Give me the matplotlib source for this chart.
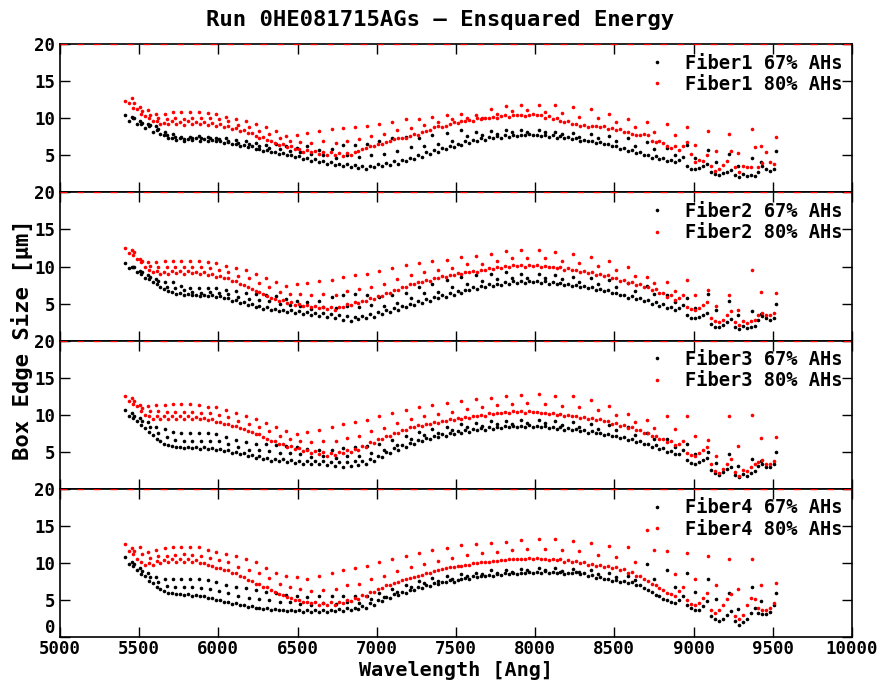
import matplotlib
matplotlib.use("Agg")
import matplotlib.pyplot as plt

plt.rcParams["font.family"] = ["DejaVu Sans Mono"]
plt.rcParams["font.weight"] = "bold"

# sampling grid of the dense bands, the order spikes and the points just after them
wave_base = [
    5410, 5435, 5460, 5485, 5510, 5535, 5560, 5585, 5610, 5635, 5660, 5685, 5710, 5735, 5760, 5785, 5810, 5835, 5860, 5885,
    5910, 5935, 5960, 5985, 6010, 6035, 6060, 6085, 6110, 6135, 6160, 6185, 6210, 6235, 6260, 6285, 6310, 6335, 6360, 6385,
    6410, 6435, 6460, 6485, 6510, 6535, 6560, 6585, 6610, 6635, 6660, 6685, 6710, 6735, 6760, 6785, 6810, 6835, 6860, 6885,
    6910, 6935, 6960, 6985, 7010, 7035, 7060, 7085, 7110, 7135, 7160, 7185, 7210, 7235, 7260, 7285, 7310, 7335, 7360, 7385,
    7410, 7435, 7460, 7485, 7510, 7535, 7560, 7585, 7610, 7635, 7660, 7685, 7710, 7735, 7760, 7785, 7810, 7835, 7860, 7885,
    7910, 7935, 7960, 7985, 8010, 8035, 8060, 8085, 8110, 8135, 8160, 8185, 8210, 8235, 8260, 8285, 8310, 8335, 8360, 8385,
    8410, 8435, 8460, 8485, 8510, 8535, 8560, 8585, 8610, 8635, 8660, 8685, 8710, 8735, 8760, 8785, 8810, 8835, 8860, 8885,
    8910, 8935, 8960, 8985, 9010, 9035, 9060, 9085, 9110, 9135, 9160, 9185, 9210, 9235, 9260, 9285, 9310, 9335, 9360, 9385,
    9410, 9435, 9460, 9485, 9510,
]
wave_peak = [
    5455, 5504, 5557, 5609, 5662, 5715, 5767, 5820, 5877, 5934,
    5988, 6047, 6110, 6174, 6235, 6300, 6367, 6430, 6494, 6561,
    6637, 6715, 6788, 6862, 6936, 7016, 7098, 7184, 7268, 7352,
    7441, 7532, 7626, 7721, 7816, 7910, 8022, 8127, 8237, 8353,
    8464, 8584, 8704, 8830, 8957, 9089, 9226, 9369, 9520,
]
wave_mid = [
    5468, 5517, 5570, 5622, 5676, 5729, 5782, 5835, 5892, 5950,
    6004, 6064, 6127, 6192, 6254, 6320, 6388, 6452, 6517, 6585,
    6662, 6741, 6815, 6890, 6965, 7046, 7129, 7216, 7301, 7386,
    7476, 7568, 7663, 7759, 7855, 7950, 8063, 8169, 8280, 8397,
    8510, 8631, 8752, 8880, 9008, 9141, 9280, 9424,
]

# Fiber 1
f1_67_base = [
    10.5, 9.7, 10.0, 9.2, 9.3, 8.7, 8.9, 8.2, 8.4, 7.9, 7.8, 7.4, 7.3, 7.1, 7.3, 7.0, 7.2, 7.1, 7.3, 7.0,
    7.2, 7.0, 7.1, 6.9, 7.0, 6.7, 6.8, 6.5, 6.6, 6.3, 6.4, 6.1, 6.2, 5.9, 5.9, 5.6, 5.7, 5.4, 5.5, 5.2,
    5.3, 5.0, 5.1, 4.8, 4.9, 4.5, 4.7, 4.3, 4.5, 4.1, 4.3, 3.9, 4.1, 3.7, 3.9, 3.5, 3.8, 3.4, 3.7, 3.3,
    3.6, 3.2, 3.6, 3.4, 3.8, 3.5, 4.0, 3.7, 4.2, 3.9, 4.4, 4.2, 4.7, 4.5, 5.0, 4.8, 5.4, 5.2, 5.7, 5.5,
    6.0, 5.8, 6.3, 6.1, 6.6, 6.4, 6.9, 6.7, 7.1, 6.9, 7.3, 7.1, 7.5, 7.3, 7.6, 7.4, 7.7, 7.5, 7.8, 7.6,
    7.8, 7.7, 7.9, 7.7, 7.8, 7.6, 7.8, 7.5, 7.7, 7.4, 7.6, 7.3, 7.5, 7.2, 7.3, 7.0, 7.1, 6.9, 7.0, 6.7,
    6.8, 6.5, 6.5, 6.2, 6.3, 5.9, 6.0, 5.6, 5.7, 5.3, 5.4, 5.0, 5.1, 4.7, 4.9, 4.5, 4.6, 4.2, 4.4, 4.1,
    4.4, 4.8, 3.6, 3.2, 3.1, 3.3, 3.6, 3.9, 2.7, 2.5, 2.4, 2.6, 2.8, 3.0, 2.3, 2.1, 2.5, 2.2, 2.3, 2.2,
    2.8, 3.5, 3.1, 2.9, 3.2,
]
f1_67_peak = [
    10.2, 9.6, 9.3, 8.9, 8.2, 7.9, 7.5, 7.5, 7.6, 7.5,
    7.4, 7.3, 7.1, 6.9, 6.7, 6.4, 6.5, 6.2, 6.0, 6.2,
    5.7, 5.8, 6.4, 6.4, 6.5, 6.9, 7.3, 7.5, 7.3, 7.7,
    8.0, 8.4, 8.2, 8.3, 8.4, 8.4, 8.4, 8.2, 8.0, 7.9,
    7.6, 7.3, 6.8, 6.0, 6.4, 5.7, 5.2, 4.7, 5.6,
]
f1_67_mid = [
    10.1, 9.4, 9.1, 8.6, 7.8, 7.5, 7.2, 7.3, 7.3, 7.3,
    7.2, 7.0, 6.7, 6.5, 6.3, 6.0, 5.8, 5.6, 5.4, 5.2,
    5.0, 4.7, 5.1, 4.8, 5.0, 5.2, 5.6, 6.1, 6.3, 6.6,
    7.0, 7.6, 7.7, 7.9, 8.1, 8.1, 8.1, 7.9, 7.5, 7.3,
    6.9, 6.3, 5.8, 5.0, 4.7, 4.1, 3.6, 4.1,
]
f1_80_base = [
    12.4, 12.0, 11.4, 11.2, 10.6, 10.3, 10.0, 9.6, 9.7, 9.3, 9.4, 9.2, 9.6, 9.2, 9.5, 9.1, 9.6, 9.2, 9.5, 9.2,
    9.5, 9.1, 9.4, 9.0, 9.2, 8.8, 9.0, 8.6, 8.7, 8.3, 8.4, 8.0, 8.0, 7.6, 7.4, 7.5, 7.1, 6.9, 6.7, 6.4,
    6.5, 6.1, 6.2, 5.8, 5.9, 5.5, 5.7, 5.4, 5.6, 5.2, 5.5, 5.1, 5.4, 5.0, 5.3, 4.9, 5.3, 5.0, 5.5, 5.6,
    5.9, 6.0, 6.2, 6.3, 6.5, 6.6, 6.8, 6.9, 7.2, 7.3, 7.4, 7.3, 7.6, 7.9, 7.8, 8.2, 8.3, 8.4, 8.8, 8.9,
    8.8, 9.0, 9.3, 9.5, 9.4, 9.7, 9.6, 9.8, 9.7, 10.0, 9.9, 10.1, 10.0, 10.2, 10.1, 10.3, 10.4, 10.2, 10.5, 10.4,
    10.5, 10.3, 10.4, 10.6, 10.4, 10.5, 10.1, 10.3, 9.9, 10.0, 9.7, 9.5, 9.6, 9.3, 9.2, 9.0, 9.1, 8.8, 9.0, 8.9,
    8.8, 8.9, 8.6, 8.7, 8.4, 8.5, 8.2, 8.1, 7.9, 7.8, 7.7, 7.9, 7.8, 7.0, 6.8, 6.9, 6.7, 6.3, 6.0, 6.2,
    5.7, 6.2, 6.8, 5.2, 4.1, 4.4, 4.3, 5.0, 3.6, 2.9, 3.1, 3.7, 4.3, 5.6, 3.4, 2.7, 3.5, 3.4, 3.4, 6.1,
    3.4, 4.0, 5.4, 4.1, 3.8,
]
f1_80_peak = [
    12.7, 11.5, 11.1, 10.6, 10.6, 10.8, 10.8, 10.8, 10.8, 10.7,
    10.6, 10.2, 9.9, 9.7, 9.3, 8.8, 8.3, 7.6, 7.8, 8.0,
    8.3, 8.5, 8.7, 8.8, 9.0, 9.2, 9.5, 9.9, 9.9, 10.2,
    10.4, 10.6, 10.4, 11.2, 11.6, 11.8, 11.8, 11.8, 11.5, 11.2,
    10.6, 9.9, 9.5, 9.3, 8.8, 8.3, 7.9, 8.5, 7.5,
]
f1_80_mid = [
    12.0, 11.0, 10.5, 10.1, 9.9, 10.0, 9.9, 10.0, 10.0, 10.0,
    9.9, 9.6, 9.1, 8.8, 8.3, 7.9, 7.3, 6.9, 6.8, 6.7,
    6.9, 6.7, 7.0, 7.2, 7.6, 7.9, 8.4, 8.7, 9.1, 9.5,
    9.9, 10.1, 10.1, 10.6, 11.0, 11.1, 10.9, 10.7, 10.2, 10.0,
    9.5, 8.8, 8.1, 7.7, 6.4, 5.6, 5.3, 6.2,
]

# Fiber 2
f2_67_base = [
    10.5, 9.8, 9.9, 9.2, 9.0, 8.5, 8.3, 7.9, 7.7, 7.3, 7.0, 6.7, 6.6, 6.3, 6.4, 6.1, 6.3, 6.1, 6.2, 6.0,
    6.2, 6.0, 6.1, 5.9, 6.0, 5.7, 5.7, 5.4, 5.5, 5.1, 5.2, 4.8, 4.9, 4.6, 4.7, 4.3, 4.5, 4.1, 4.3, 4.0,
    4.2, 3.9, 4.1, 3.7, 4.0, 3.6, 3.9, 3.5, 3.8, 3.3, 3.7, 3.2, 3.6, 3.0, 3.4, 2.8, 3.3, 2.7, 3.2, 2.9,
    3.3, 3.0, 3.6, 3.2, 3.9, 3.6, 4.1, 3.9, 4.4, 4.2, 4.7, 4.5, 5.0, 4.8, 5.3, 5.1, 5.6, 5.4, 5.9, 5.7,
    6.1, 5.9, 6.4, 6.2, 6.7, 6.5, 6.9, 6.8, 7.2, 7.0, 7.4, 7.2, 7.6, 7.4, 7.7, 7.5, 7.9, 7.7, 8.0, 7.8,
    8.0, 7.8, 8.1, 7.9, 8.0, 7.8, 8.0, 7.7, 7.9, 7.6, 7.8, 7.5, 7.7, 7.4, 7.5, 7.2, 7.4, 7.1, 7.2, 6.9,
    7.0, 6.7, 6.8, 6.4, 6.5, 6.1, 6.2, 5.8, 6.0, 5.6, 5.7, 5.3, 5.5, 5.0, 5.2, 4.7, 4.9, 4.4, 4.6, 4.2,
    4.4, 4.8, 3.5, 3.1, 3.0, 3.2, 3.5, 3.8, 2.3, 1.9, 1.8, 2.1, 2.5, 2.9, 1.9, 1.6, 2.0, 1.7, 1.9, 2.0,
    2.8, 3.3, 3.0, 2.8, 3.1,
]
f2_67_peak = [
    10.0, 9.4, 8.9, 8.3, 7.9, 7.9, 7.4, 7.1, 7.1, 7.1,
    7.1, 6.9, 6.7, 6.5, 6.3, 6.2, 6.0, 5.6, 5.4, 5.2,
    5.4, 5.9, 6.1, 6.3, 6.1, 5.9, 6.1, 6.5, 7.2, 7.6,
    8.2, 8.6, 8.9, 9.0, 9.3, 9.0, 9.0, 8.8, 8.6, 8.4,
    8.2, 7.8, 7.4, 6.2, 5.8, 6.3, 5.4, 4.0, 5.0,
]
f2_67_mid = [
    9.9, 9.2, 8.6, 8.0, 7.3, 7.1, 6.8, 6.6, 6.5, 6.6,
    6.5, 6.3, 5.9, 5.6, 5.5, 5.3, 5.0, 4.8, 4.7, 4.3,
    4.5, 4.4, 4.7, 4.6, 4.8, 4.7, 5.1, 5.7, 6.4, 6.6,
    7.2, 7.7, 8.0, 8.3, 8.5, 8.5, 8.5, 8.3, 7.9, 7.6,
    7.3, 6.7, 6.3, 5.2, 4.4, 4.1, 3.5, 3.6,
]
f2_80_base = [
    12.5, 11.8, 11.6, 11.0, 10.6, 10.0, 9.6, 9.3, 9.4, 9.0, 9.3, 9.0, 9.4, 9.1, 9.4, 9.0, 9.4, 9.1, 9.3, 9.0,
    9.2, 8.9, 9.0, 8.6, 8.7, 8.4, 8.4, 8.0, 8.0, 7.6, 7.5, 7.2, 7.0, 6.7, 6.6, 6.3, 6.0, 5.8, 5.6, 5.4,
    5.5, 5.1, 5.2, 4.8, 5.0, 4.7, 4.8, 4.5, 4.7, 4.4, 4.6, 4.3, 4.5, 4.2, 4.6, 4.5, 4.9, 4.8, 5.2, 5.1,
    5.4, 5.3, 5.7, 5.6, 6.0, 6.0, 6.4, 6.4, 6.8, 6.9, 7.2, 7.3, 7.6, 7.6, 7.9, 7.9, 8.2, 8.1, 8.4, 8.4,
    8.7, 8.6, 8.9, 8.8, 9.1, 9.0, 9.3, 9.2, 9.4, 9.3, 9.6, 9.5, 9.8, 9.7, 9.9, 9.8, 10.1, 10.0, 10.2, 10.1,
    10.2, 10.0, 10.2, 10.1, 10.2, 10.0, 10.1, 9.9, 10.0, 9.8, 9.9, 9.6, 9.8, 9.5, 9.6, 9.3, 9.4, 9.1, 9.2, 8.9,
    9.0, 8.7, 8.8, 8.4, 8.5, 8.1, 8.2, 7.8, 7.9, 7.5, 7.6, 7.2, 7.3, 6.8, 7.0, 6.4, 6.5, 5.9, 6.1, 5.5,
    5.7, 6.2, 4.6, 4.3, 4.2, 4.4, 4.8, 5.2, 3.1, 2.6, 2.5, 2.8, 3.4, 4.0, 2.5, 2.1, 2.6, 2.4, 2.6, 2.8,
    3.4, 3.8, 3.5, 3.4, 3.7,
]
f2_80_peak = [
    12.2, 11.0, 10.6, 10.6, 10.8, 10.8, 10.8, 10.8, 10.8, 10.6,
    10.5, 10.1, 9.8, 9.5, 9.0, 8.4, 7.9, 7.4, 7.6, 7.8,
    8.0, 8.2, 8.6, 8.8, 9.0, 9.4, 9.8, 10.2, 10.5, 10.7,
    10.9, 11.3, 11.4, 11.7, 12.1, 12.3, 12.2, 12.0, 11.7, 11.3,
    10.8, 10.0, 8.6, 7.9, 8.2, 6.9, 6.1, 9.5, 6.5,
]
f2_80_mid = [
    11.9, 10.8, 10.1, 10.0, 9.9, 10.0, 9.9, 10.0, 9.9, 9.8,
    9.6, 9.3, 8.7, 8.4, 7.8, 7.2, 6.6, 6.3, 6.3, 6.1,
    6.3, 6.2, 6.7, 7.0, 7.3, 7.7, 8.3, 8.9, 9.3, 9.5,
    9.8, 10.3, 10.4, 10.8, 11.1, 11.2, 11.1, 10.8, 10.5, 10.1,
    9.6, 8.7, 7.8, 6.7, 6.2, 4.7, 4.1, 6.6,
]

# Fiber 3
f3_67_base = [
    10.7, 9.9, 9.6, 9.2, 8.6, 8.2, 7.7, 7.3, 6.8, 6.4, 6.1, 5.9, 5.8, 5.6, 5.7, 5.5, 5.7, 5.5, 5.6, 5.4,
    5.6, 5.4, 5.5, 5.3, 5.4, 5.1, 5.2, 4.9, 5.0, 4.7, 4.8, 4.4, 4.6, 4.2, 4.4, 4.0, 4.2, 3.8, 4.0, 3.7,
    4.0, 3.6, 3.9, 3.5, 3.8, 3.4, 3.8, 3.3, 3.7, 3.3, 3.7, 3.2, 3.6, 3.1, 3.6, 3.0, 3.6, 3.1, 3.7, 3.2,
    3.8, 3.4, 4.1, 3.8, 4.5, 4.3, 5.0, 4.8, 5.5, 5.3, 5.9, 5.7, 6.2, 6.0, 6.6, 6.4, 6.9, 6.7, 7.2, 7.0,
    7.4, 7.2, 7.6, 7.4, 7.8, 7.6, 7.9, 7.7, 8.1, 7.9, 8.2, 8.0, 8.3, 8.1, 8.4, 8.2, 8.5, 8.3, 8.5, 8.3,
    8.5, 8.3, 8.6, 8.4, 8.5, 8.3, 8.5, 8.2, 8.4, 8.1, 8.3, 8.0, 8.2, 7.9, 8.1, 7.8, 7.9, 7.6, 7.8, 7.5,
    7.6, 7.3, 7.4, 7.1, 7.2, 6.9, 7.0, 6.6, 6.8, 6.3, 6.4, 6.0, 6.1, 5.7, 5.9, 5.4, 5.5, 5.0, 5.1, 4.7,
    4.7, 5.2, 3.9, 3.5, 3.4, 3.6, 3.9, 4.2, 2.6, 2.1, 1.9, 2.3, 2.7, 3.0, 1.9, 1.6, 2.0, 1.8, 2.1, 2.4,
    3.1, 3.4, 3.0, 2.9, 3.3,
]
f3_67_peak = [
    10.3, 9.6, 9.0, 8.4, 8.1, 7.7, 7.6, 7.6, 7.6, 7.6,
    7.4, 7.0, 6.6, 6.3, 6.1, 6.0, 5.9, 5.8, 5.6, 5.4,
    5.2, 5.3, 5.5, 5.6, 5.8, 6.1, 6.6, 7.2, 7.7, 8.1,
    8.4, 8.7, 8.9, 9.1, 9.2, 9.3, 9.3, 9.2, 9.0, 8.8,
    8.6, 8.3, 7.6, 6.8, 6.1, 5.0, 4.7, 4.1, 5.0,
]
f3_67_mid = [
    9.9, 9.1, 8.3, 7.6, 7.0, 6.6, 6.5, 6.5, 6.5, 6.5,
    6.4, 6.1, 5.6, 5.3, 5.2, 5.1, 4.8, 4.8, 4.7, 4.3,
    4.4, 4.2, 4.5, 4.4, 4.9, 5.2, 5.9, 6.7, 7.3, 7.5,
    7.9, 8.3, 8.5, 8.7, 8.7, 8.9, 8.9, 8.6, 8.4, 8.1,
    7.9, 7.3, 6.7, 5.7, 4.7, 3.5, 3.1, 3.7,
]
f3_80_base = [
    12.6, 11.9, 11.5, 11.2, 10.5, 10.0, 9.8, 9.5, 9.8, 9.4, 9.8, 9.5, 9.9, 9.5, 9.9, 9.5, 9.8, 9.4, 9.7, 9.4,
    9.6, 9.3, 9.4, 9.0, 9.0, 8.7, 8.8, 8.5, 8.5, 8.2, 8.1, 7.8, 7.7, 7.4, 7.4, 7.0, 6.8, 6.5, 6.4, 6.1,
    6.1, 5.7, 5.8, 5.4, 5.5, 5.1, 5.3, 4.9, 5.1, 4.7, 5.0, 4.5, 4.9, 4.6, 5.0, 4.8, 5.2, 5.0, 5.4, 5.3,
    5.8, 5.7, 6.3, 6.2, 6.7, 6.7, 7.1, 7.2, 7.5, 7.6, 7.9, 8.0, 8.3, 8.3, 8.6, 8.5, 8.8, 8.7, 9.0, 8.9,
    9.2, 9.1, 9.4, 9.3, 9.6, 9.5, 9.7, 9.6, 9.9, 9.8, 10.0, 9.9, 10.2, 10.1, 10.3, 10.2, 10.4, 10.3, 10.5, 10.4,
    10.5, 10.3, 10.5, 10.4, 10.4, 10.2, 10.3, 10.1, 10.2, 10.0, 10.1, 9.9, 10.0, 9.8, 9.9, 9.6, 9.7, 9.5, 9.6, 9.3,
    9.4, 9.1, 9.2, 8.8, 8.9, 8.5, 8.6, 8.2, 8.3, 7.9, 8.0, 7.5, 7.6, 7.1, 7.2, 6.7, 6.8, 6.3, 6.4, 5.9,
    6.1, 6.5, 4.9, 4.6, 4.5, 4.8, 5.2, 5.6, 3.4, 2.4, 2.2, 2.7, 3.4, 4.1, 2.3, 1.8, 2.5, 2.4, 2.9, 3.3,
    3.6, 3.9, 3.4, 3.3, 3.7,
]
f3_80_peak = [
    12.3, 11.3, 11.2, 11.3, 11.3, 11.4, 11.4, 11.4, 11.3, 11.1,
    11.0, 10.6, 10.2, 9.8, 9.4, 8.9, 8.4, 7.8, 7.4, 7.7,
    7.9, 8.4, 8.7, 9.0, 9.3, 9.8, 10.2, 10.6, 11.1, 11.3,
    11.6, 11.9, 12.1, 12.3, 12.5, 12.7, 12.8, 12.6, 12.5, 12.0,
    11.2, 10.1, 9.3, 9.9, 9.9, 6.6, 9.9, 10.0, 7.0,
]
f3_80_mid = [
    11.9, 10.9, 10.5, 10.5, 10.4, 10.4, 10.4, 10.4, 10.3, 10.2,
    10.0, 9.7, 9.2, 8.8, 8.4, 7.8, 7.2, 6.8, 6.4, 6.3,
    6.4, 6.5, 6.9, 7.1, 7.8, 8.2, 8.9, 9.4, 9.9, 10.1,
    10.4, 10.8, 11.0, 11.3, 11.5, 11.6, 11.5, 11.2, 11.0, 10.6,
    10.0, 9.0, 8.2, 8.1, 7.2, 4.4, 5.8, 6.9,
]

# Fiber 4
f4_67_base = [
    10.8, 9.9, 9.6, 9.1, 8.5, 8.2, 7.6, 7.3, 6.8, 6.5, 6.2, 6.0, 5.9, 5.8, 5.8, 5.7, 5.8, 5.6, 5.7, 5.5,
    5.6, 5.3, 5.3, 5.0, 5.0, 4.7, 4.8, 4.5, 4.6, 4.3, 4.4, 4.1, 4.2, 3.9, 4.0, 3.8, 3.9, 3.7, 3.8, 3.6,
    3.7, 3.5, 3.7, 3.5, 3.6, 3.4, 3.6, 3.4, 3.6, 3.4, 3.6, 3.4, 3.7, 3.5, 3.8, 3.5, 3.9, 3.6, 4.0, 3.8,
    4.2, 4.0, 4.6, 4.4, 5.0, 4.9, 5.4, 5.3, 5.8, 5.7, 6.1, 6.0, 6.4, 6.3, 6.7, 6.6, 7.0, 6.9, 7.3, 7.2,
    7.5, 7.4, 7.7, 7.5, 7.7, 7.9, 8.0, 7.9, 8.2, 8.1, 8.3, 8.2, 8.4, 8.3, 8.5, 8.4, 8.6, 8.5, 8.6, 8.5,
    8.7, 8.6, 8.8, 8.7, 8.8, 8.6, 8.9, 8.7, 8.8, 8.6, 8.8, 8.5, 8.7, 8.6, 8.8, 8.5, 8.6, 8.3, 8.4, 8.0,
    8.1, 7.8, 7.9, 7.6, 7.7, 7.4, 7.6, 7.3, 7.4, 7.1, 7.0, 6.6, 6.4, 6.1, 5.7, 5.5, 5.2, 5.0, 4.8, 4.6,
    5.0, 5.6, 4.4, 3.9, 3.6, 3.7, 4.2, 4.9, 2.8, 2.4, 2.2, 2.5, 3.0, 3.5, 2.2, 1.7, 2.1, 2.5, 3.2, 4.0,
    3.2, 3.1, 3.1, 3.4, 4.3,
]
f4_67_peak = [
    10.2, 9.3, 8.6, 8.1, 7.9, 7.9, 7.9, 7.9, 7.8, 7.7,
    7.5, 7.0, 6.8, 6.6, 6.3, 6.1, 5.9, 5.7, 5.5, 5.4,
    5.6, 5.6, 5.5, 5.5, 5.6, 6.0, 6.5, 7.0, 7.6, 8.0,
    8.3, 8.5, 8.7, 9.0, 9.0, 9.2, 9.3, 9.3, 9.2, 9.0,
    8.6, 8.3, 9.9, 9.1, 8.6, 7.9, 5.9, 6.7, 5.9,
]
f4_67_mid = [
    9.9, 8.9, 8.1, 7.4, 6.9, 6.8, 6.8, 6.7, 6.6, 6.5,
    6.2, 5.9, 5.5, 5.3, 5.1, 5.0, 4.7, 4.7, 4.5, 4.4,
    4.6, 4.5, 4.7, 4.6, 5.1, 5.4, 6.1, 6.7, 7.3, 7.6,
    7.9, 8.2, 8.5, 8.7, 8.8, 9.0, 9.1, 8.9, 8.8, 8.5,
    8.1, 7.7, 7.8, 6.8, 6.1, 5.1, 3.8, 4.9,
]
f4_80_base = [
    12.6, 11.6, 11.2, 10.5, 10.2, 9.8, 10.0, 9.7, 10.3, 10.0, 10.4, 10.1, 10.5, 10.2, 10.5, 10.2, 10.5, 10.1, 10.4, 10.0,
    10.0, 9.7, 9.6, 9.3, 9.3, 9.0, 9.0, 8.6, 8.6, 8.2, 8.1, 7.7, 7.6, 7.2, 7.2, 6.8, 6.7, 6.3, 6.1, 5.8,
    5.7, 5.4, 5.3, 5.0, 5.0, 4.8, 4.8, 4.6, 4.7, 4.4, 4.6, 4.3, 4.7, 4.4, 4.8, 4.6, 5.0, 4.9, 5.3, 5.2,
    5.7, 5.6, 6.1, 6.1, 6.5, 6.6, 7.0, 7.0, 7.3, 7.4, 7.7, 7.8, 8.0, 8.1, 8.3, 8.4, 8.6, 8.7, 8.9, 9.0,
    9.2, 9.3, 9.4, 9.5, 9.6, 9.6, 9.8, 9.8, 10.0, 10.0, 10.1, 10.2, 10.2, 10.3, 10.3, 10.4, 10.4, 10.5, 10.5, 10.6,
    10.6, 10.5, 10.7, 10.6, 10.7, 10.5, 10.6, 10.4, 10.6, 10.4, 10.5, 10.2, 10.4, 10.1, 10.3, 10.0, 10.1, 9.8, 9.9, 9.6,
    9.8, 9.5, 9.6, 9.3, 9.4, 9.0, 9.2, 8.7, 8.8, 8.3, 8.2, 7.8, 7.6, 7.2, 7.0, 6.6, 6.3, 6.0, 5.8, 5.5,
    6.2, 6.8, 5.0, 4.5, 4.3, 4.6, 5.3, 6.0, 3.6, 3.3, 3.7, 4.4, 5.1, 5.8, 2.8, 2.4, 3.0, 4.3, 5.3, 5.2,
    4.0, 3.6, 3.7, 4.0, 4.6,
]
f4_80_peak = [
    12.0, 12.2, 11.5, 11.8, 12.0, 12.1, 12.2, 12.2, 12.1, 11.8,
    11.5, 11.2, 10.9, 10.5, 10.1, 9.3, 8.6, 8.2, 8.1, 7.9,
    8.2, 8.6, 9.0, 9.3, 9.6, 10.1, 10.5, 10.9, 11.3, 11.7,
    12.0, 12.4, 12.6, 12.7, 12.9, 13.1, 13.2, 13.2, 13.0, 12.7,
    12.3, 12.1, 14.5, 11.6, 11.3, 10.9, 10.6, 10.5, 7.3,
]
f4_80_mid = [
    11.6, 11.2, 10.7, 10.9, 11.0, 11.1, 11.2, 11.1, 11.0, 10.7,
    10.4, 10.1, 9.5, 9.1, 8.6, 8.0, 7.2, 6.7, 6.5, 6.2,
    6.4, 6.5, 7.0, 7.2, 7.8, 8.3, 8.9, 9.4, 9.9, 10.3,
    10.7, 11.1, 11.3, 11.5, 11.7, 11.9, 11.9, 11.7, 11.6, 11.1,
    10.8, 10.2, 11.8, 8.5, 7.8, 7.1, 6.5, 7.0,
]

fibers = [
    ("Fiber1", f1_67_base + f1_67_peak + f1_67_mid, f1_80_base + f1_80_peak + f1_80_mid),
    ("Fiber2", f2_67_base + f2_67_peak + f2_67_mid, f2_80_base + f2_80_peak + f2_80_mid),
    ("Fiber3", f3_67_base + f3_67_peak + f3_67_mid, f3_80_base + f3_80_peak + f3_80_mid),
    ("Fiber4", f4_67_base + f4_67_peak + f4_67_mid, f4_80_base + f4_80_peak + f4_80_mid),
]
x_ticks = [5000, 5500, 6000, 6500, 7000, 7500, 8000, 8500, 9000, 9500, 10000]
y_ticks = [0, 5, 10, 15, 20]
y_tick_labels = ["0", "5", "10", "15", "20"]

fig, axes = plt.subplots(4, 1, sharex=True, figsize=(8.81, 6.8), dpi=100)
fig.subplots_adjust(left=0.068, right=0.967, top=0.935, bottom=0.063, hspace=0)

wave_all = wave_base + wave_peak + wave_mid
for i, (ax, (name, v67, v80)) in enumerate(zip(axes, fibers)):
    ax.plot(wave_all, v67, "o", color="black", ms=2.6, mew=0,
            label=f"{name} 67% AHs")
    ax.plot(wave_all, v80, "o", color="red", ms=2.6, mew=0,
            label=f"{name} 80% AHs")
    ax.axhline(20, color="red", ls=(0, (5, 7)), lw=1.0, zorder=3)
    ax.set_xlim(5000, 10000)
    ax.set_ylim(0, 20)
    ax.set_xticks(x_ticks)
    ax.set_yticks(y_ticks)
    # the "0" of the upper panels sits under the "20" of the panel below
    labels = y_tick_labels if i == len(axes) - 1 else [""] + y_tick_labels[1:]
    ax.set_yticklabels(labels)
    ax.tick_params(direction="in", top=True, right=True, length=7,
                   width=1, labelsize=12.5)
    ax.tick_params(axis="x", pad=2)
    for sp in ax.spines.values():
        sp.set_linewidth(1.2)
    ax.legend(loc="upper right", frameon=False, fontsize=13.5,
              handlelength=1.0, handletextpad=1.0, labelspacing=0.12,
              borderaxespad=0.3, borderpad=0.2)

# lift the bottom "0" a little so it clears the wavelength labels
axes[-1].get_yticklabels()[0].set_verticalalignment("bottom")

fig.text(0.5, 0.97, "Run 0HE081715AGs \u2013 Ensquared Energy",
         ha="center", va="center", fontsize=16, fontweight="bold")
fig.text(0.518, 0.0, "Wavelength [Ang]", ha="center", va="bottom",
         fontsize=14.5, fontweight="bold")
fig.text(0.025, 0.5, "Box Edge Size [\u03bcm]", ha="center", va="center",
         rotation=90, fontsize=16, fontweight="bold")

fig.savefig("out.png", dpi=100)
